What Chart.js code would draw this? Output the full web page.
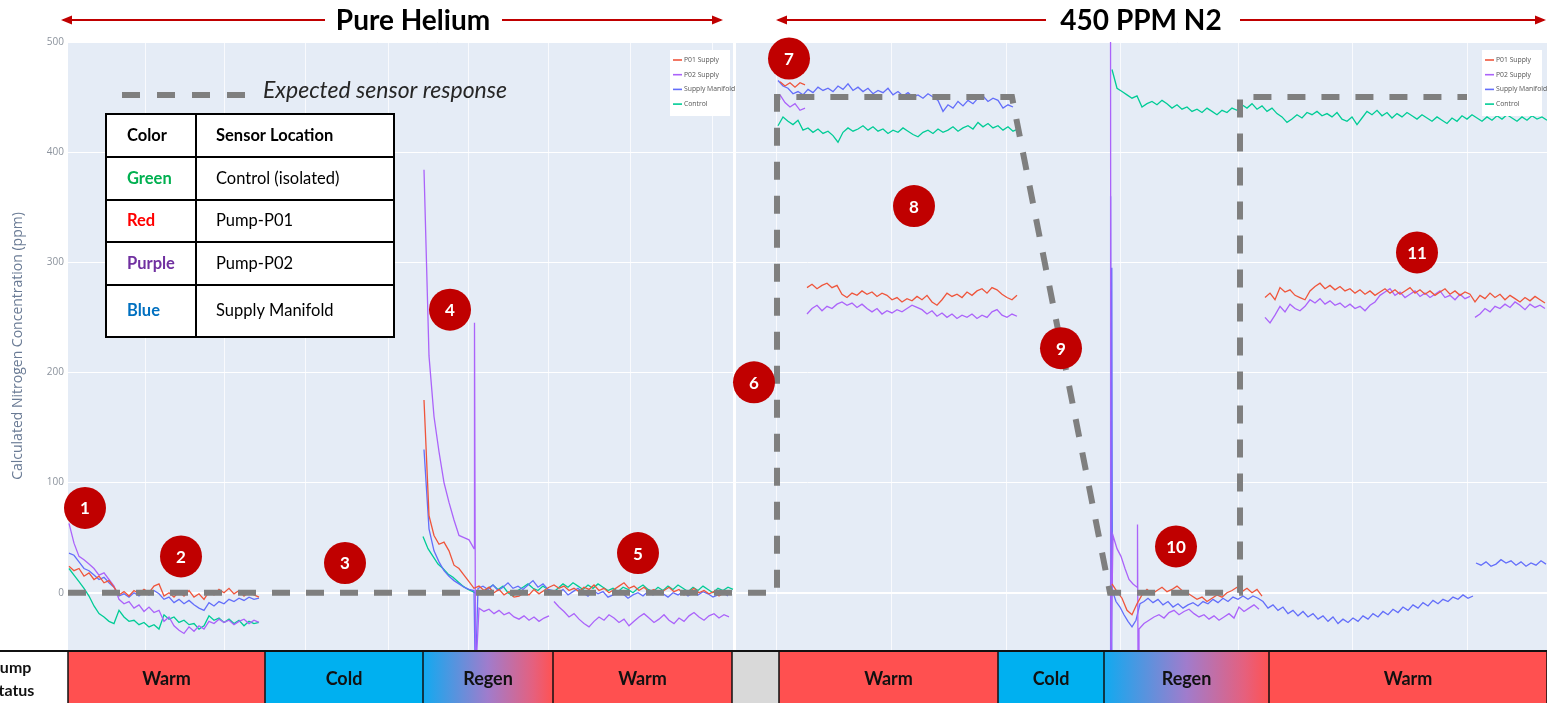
<!DOCTYPE html>
<html>
<head>
<meta charset="utf-8">
<script src="https://cdn.jsdelivr.net/npm/chart.js@4.4.1/dist/chart.umd.min.js"></script>
<style>
  html, body { margin: 0; padding: 0; background: #fff; overflow: hidden; }
</style>
</head>
<body>
<canvas id="chart" width="1547" height="703"></canvas>
<script>
// time axis is in hours from the start of the log
const X_MAX = 147.9;
const yTickValues = [0, 100, 200, 300, 400, 500];
const xGridHours = [7.7, 15.7, 23.7, 32.0, 40.0, 48.0, 56.2, 64.4, 70.85, 82.3, 93.8, 105.3, 117.0, 128.4, 139.9];
const panelGapHours = [66.5, 66.8];

const seriesNames = ['P01 Supply', 'P02 Supply', 'Supply Manifold', 'Control'];

// P01 Supply (red)
const p01Warm1 = [24,20,22,15,18,12,15,9,11,5,-2,1,-3,2,-1,3,0,6,8,-3,0,-4,1,-3,2,-4,-1,-6,1,-2,3,0,4,-1,2,-3,1,-2,-4];
const p01Regen1 = [175,70,52,44,46,38,25,22,16,10,4,6,2,5,0,3,-2,1,-4,-3,0,-2,3,-1,2,5,7,4,6,2,4,1,5,3,7,2,4,0,3,6,9,4,6,2,5,1,3,-1,2,5,1,3,-2,1,4,0,2,-1,1,-3,0,2];
const p01N2Start = [464,460,463,459,463,461];
const p01N2Warm = [277,280,276,279,281,277,279,271,268,272,270,274,271,273,269,272,270,266,268,264,267,265,269,266,270,264,261,266,272,269,271,268,273,270,274,276,272,277,275,271,268,266,270];
const p01Regen2 = [8,1,-5,-16,-20,-10,-2,3,-1,2,5,1,3,6,2,0,-3,-6,-4,-8,-5,-2,-4,0,2,5,1,4,0,3,-3];
const p01Warm3 = [268,272,266,277,273,275,270,268,266,274,278,281,276,279,275,278,274,276,272,275,271,274,270,273,276,272,275,271,274,277,272,275,271,274,270,273,276,271,274,270,273,271,264,270,267,272,268,271,266,270,267,264,268,265,269,266,263];

// P02 Supply (purple)
const p02Warm1 = [63,45,33,30,26,22,16,18,12,6,-6,-10,-8,-14,-11,-17,-13,-18,-16,-26,-22,-30,-34,-37,-31,-35,-30,-33,-26,-28,-24,-27,-25,-29,-26,-24,-28,-25,-27];
const p02Regen1 = [384,215,160,128,100,82,66,52,50,48,40];
const p02Spike1 = [245,-60,-60];
const p02Regen1b = [-14,-17,-15,-19,-16,-20,-18,-22,-24,-21,-25,-22,-26,-23,-21];
const p02Warm2 = [-8,-13,-17,-22,-19,-24,-28,-31,-26,-22,-25,-20,-23,-27,-24,-30,-26,-22,-19,-23,-27,-24,-20,-25,-28,-23,-26,-21,-18,-22,-25,-21,-19,-23,-20,-22];
const p02N2Start = [452,445,441,444,438,440];
const p02N2Warm = [253,258,261,256,260,258,262,264,261,263,259,262,258,255,258,253,256,254,257,255,258,261,259,257,253,256,251,254,250,253,249,252,250,253,249,252,250,255,257,252,250,253,251];
const p02Spike2 = [560,-60];
const p02Regen2 = [52,40,33,22,12,8,5];
const p02Spike3 = [62,-60];
const p02Regen2b = [-33,-28,-25,-22,-20,-23,-18,-16,-20,-17,-15,-19,-22,-20,-24,-21,-25,-22,-19,-23,-13,-17,-14,-11,-15];
const p02Warm3 = [250,245,252,260,255,262,258,256,260,266,263,267,262,265,261,263,259,262,258,260,256,261,264,270,273,276,270,273,268,271,274,269,272,268,271,274,268,270,266,271,267,269];
const p02Warm3b = [250,253,258,255,260,258,262,259,264,261,257,262,259,261,258];

// Supply Manifold (blue)
const manWarm1 = [36,34,28,22,20,16,12,14,9,5,-3,-1,-4,0,-3,1,-2,2,-1,-6,-4,-9,-6,-10,-7,-11,-14,-16,-9,-12,-8,-10,-6,-8,-5,-7,-4,-6,-5];
const manRegen1 = [130,58,38,28,20,15,11,8,5,3,2];
const manSpike1 = [-60,-60];
const manRegen1b = [4,6,3,7,2,5,9,4,6,3,7,11,5,8,3,2,-1,3,-2,1,4,0,-3,2,-1,1,-4,-2,1,-1,-5,-2,0,-3,1,-2,2,-1,-4,0,-2,1,-3,0,-2,1,-1,-4,-2,0,-3];
const manN2Warm = [465,460,458,453,455,452,457,454,459,456,458,455,460,457,462,456,459,455,458,453,456,454,458,452,455,451,454,450,452,449,453,450,447,437,443,440,446,442,447,444,449,451,446,449,447,440,443,441];
const manSpike2 = [-60,360,-60,295,2];
const manRegen2 = [-8,-13,-20,-26,-31,-25,-10,-8];
const manRegen2b = [-5,-9,-6,-11,-8,-13,-10,-14,-11,-9,-12,-8,-10,-6,-9,-5,-8,-4,-6,-3,-6,-3,-5,-8,-14,-11,-16,-13,-19,-16,-21,-17,-22,-19,-24,-21,-26,-22,-28,-24,-27,-23,-26,-21,-24,-19,-22,-17,-20,-15,-18,-13,-16,-11,-14,-9,-12,-7,-10,-6,-8,-4,-6,-2,-5,-3];
const manWarm3 = [27,25,28,24,26,30,27,29,25,28,24,27,25,29,26];

// Control (green)
const ctlWarm1 = [22,16,10,4,-3,-12,-19,-22,-26,-28,-16,-22,-26,-25,-29,-27,-31,-29,-33,-20,-24,-22,-27,-25,-29,-28,-33,-30,-21,-25,-23,-27,-24,-28,-25,-30,-26,-28,-27];
const ctlRegen1 = [51,40,33,26,22,17,14,10,6,3,1,-2,1,4,7,3,6,0,-3,2,5,8,4,2,6,3,0,4,8,5,9,6,3,7,4,8,5,2,4,1,5,3,0,4,7,3,1,5,2,6,3,7,4,1,5,2,6,3,0,4,2,5,3];
const ctlN2Warm = [424,432,428,425,429,420,422,418,421,417,419,415,409,418,422,419,421,424,420,423,419,421,417,420,418,422,419,416,414,418,420,417,421,418,420,423,419,422,424,421,427,423,426,422,424,420,423,419,421];
const ctlN2Rest = [475,458,455,452,449,451,441,444,446,443,447,444,440,443,439,441,437,439,436,440,437,434,438,436,440,438,443,440,444,439,442,437,440,435,432,427,430,434,431,436,434,437,433,435,432,436,430,428,432,425,431,437,434,438,433,436,431,435,432,436,433,430,434,431,428,432,429,426,431,428,433,430,434,431,428,432,429,433,430,434,431,428,432,429,433,430,432,429];

// expected sensor response (dashed)
const expectedHours = [0, 70.9, 70.9, 94.4, 104.2, 117.2, 117.2, 139.9];
const expectedPpm = [0, 0, 450, 450, 0, 0, 450, 450];

// pump status bar
const statusEdges = [0, 19.7, 35.5, 48.5, 66.4, 71.1, 93.0, 103.6, 120.1, 147.9];
const statusLabels = ['Warm', 'Cold', 'Regen', 'Warm', '', 'Warm', 'Cold', 'Regen', 'Warm'];

// numbered callouts
const markerLabels = ['1','2','3','4','5','6','7','8','9','10','11'];
const markerHours = [1.7, 11.3, 27.7, 38.2, 57.0, 68.6, 72.1, 84.6, 99.3, 110.8, 134.9];
const markerPpm = [77, 33, 27, 257, 36, 191, 485, 351, 222, 42, 309];

// sensor table
const tableColorNames = ['Green', 'Red', 'Purple', 'Blue'];
const tableLocations = ['Control (isolated)', 'Pump-P01', 'Pump-P02', 'Supply Manifold'];

const GAP = 'gap';
// each run: [start hour, sample step (h), values]
function series(runs) {
  const pts = [];
  runs.forEach(r => {
    if (r === GAP) { pts.push({ x: pts[pts.length - 1].x + 0.05, y: null }); return; }
    r[2].forEach((v, i) => pts.push({ x: r[0] + i * r[1], y: v }));
  });
  return pts;
}

const p01Data = series([
  [0.1, 0.5, p01Warm1], GAP, [35.6, 0.5, p01Regen1], GAP, [71.2, 0.5, p01N2Start], GAP,
  [73.9, 0.5, p01N2Warm], GAP, [104.4, 0.5, p01Regen2], GAP, [119.7, 0.5, p01Warm3]
]);
const p02Data = series([
  [0.1, 0.5, p02Warm1], GAP, [35.6, 0.5, p02Regen1], [40.65, 0.1, p02Spike1], [41.1, 0.5, p02Regen1b], GAP,
  [48.6, 0.5, p02Warm2], GAP, [71.2, 0.5, p02N2Start], GAP, [73.9, 0.5, p02N2Warm], GAP,
  [104.25, 0.05, p02Spike2], [104.5, 0.4, p02Regen2], [106.95, 0.05, p02Spike3], [107.1, 0.5, p02Regen2b], GAP,
  [119.7, 0.5, p02Warm3], GAP, [140.7, 0.5, p02Warm3b]
]);
const manData = series([
  [0.1, 0.5, manWarm1], GAP, [35.6, 0.5, manRegen1], [40.7, 0.1, manSpike1], [41.0, 0.5, manRegen1b], GAP,
  [71.0, 0.5, manN2Warm], GAP, [104.2, 0.06, manSpike2], [104.8, 0.4, manRegen2], [108.0, 0.5, manRegen2b], GAP,
  [140.8, 0.5, manWarm3]
]);
const ctlData = series([
  [0.1, 0.5, ctlWarm1], GAP, [35.5, 0.5, ctlRegen1], GAP, [71.0, 0.5, ctlN2Warm], GAP, [104.4, 0.5, ctlN2Rest]
]);

const traceColors = ['#EF553B', '#AB63FA', '#636EFA', '#00CC96'];

function trace(i, data) {
  return { label: seriesNames[i], data, borderColor: traceColors[i], borderWidth: 1.3,
           pointRadius: 0, tension: 0, fill: false, spanGaps: false, order: 1 };
}

function arrow(ctx, x1, x2, y, headLeft, headRight) {
  ctx.strokeStyle = '#c00000';
  ctx.fillStyle = '#c00000';
  ctx.lineWidth = 2;
  ctx.beginPath(); ctx.moveTo(x1, y); ctx.lineTo(x2, y); ctx.stroke();
  if (headLeft) {
    ctx.beginPath(); ctx.moveTo(x1 - 2, y); ctx.lineTo(x1 + 9, y - 4.5); ctx.lineTo(x1 + 9, y + 4.5); ctx.fill();
  }
  if (headRight) {
    ctx.beginPath(); ctx.moveTo(x2 + 2, y); ctx.lineTo(x2 - 9, y - 4.5); ctx.lineTo(x2 - 9, y + 4.5); ctx.fill();
  }
}

function plotlyLegend(ctx, x, y) {
  ctx.fillStyle = '#ffffff';
  ctx.fillRect(x, y, 60, 66);
  ctx.font = '6.8px "Open Sans"';
  ctx.textAlign = 'left';
  ctx.textBaseline = 'middle';
  seriesNames.forEach((name, i) => {
    const yy = y + 10 + i * 14.7;
    ctx.strokeStyle = traceColors[i];
    ctx.lineWidth = 1.6;
    ctx.beginPath(); ctx.moveTo(x + 3, yy); ctx.lineTo(x + 12, yy); ctx.stroke();
    ctx.fillStyle = '#555';
    ctx.fillText(name, x + 14, yy);
  });
}

const overlay = {
  id: 'overlay',
  beforeDraw(chart) {
    const { ctx, chartArea: a, scales: { x } } = chart;
    ctx.save();
    ctx.fillStyle = '#E5ECF6';
    ctx.fillRect(a.left, a.top, a.right - a.left, a.bottom - a.top);
    ctx.fillStyle = '#ffffff';
    const g0 = x.getPixelForValue(panelGapHours[0]), g1 = x.getPixelForValue(panelGapHours[1]);
    ctx.fillRect(g0, a.top, g1 - g0, a.bottom - a.top);
    ctx.restore();
  },
  afterDraw(chart) {
    const { ctx, chartArea: a, scales: { x, y } } = chart;
    const H = chart.height;
    ctx.save();

    plotlyLegend(ctx, 670, 50);
    plotlyLegend(ctx, 1482, 50);

    // expected-response legend
    ctx.strokeStyle = '#7f7f7f';
    ctx.lineWidth = 6;
    ctx.setLineDash([18, 17]);
    ctx.beginPath(); ctx.moveTo(122, 95); ctx.lineTo(245, 95); ctx.stroke();
    ctx.setLineDash([]);
    ctx.fillStyle = '#262626';
    ctx.font = 'italic 23px Lato';
    ctx.textAlign = 'left';
    ctx.textBaseline = 'middle';
    ctx.fillText('Expected sensor response', 263, 91);

    // sensor table
    const tx0 = 106, tx1 = 394, tcol = 196;
    const rows = [114, 157, 200, 242, 285, 337];
    ctx.fillStyle = '#ffffff';
    ctx.fillRect(tx0, rows[0], tx1 - tx0, rows[5] - rows[0]);
    ctx.strokeStyle = '#000';
    ctx.lineWidth = 2;
    ctx.strokeRect(tx0, rows[0], tx1 - tx0, rows[5] - rows[0]);
    ctx.beginPath();
    ctx.moveTo(tcol, rows[0]); ctx.lineTo(tcol, rows[5]);
    for (let i = 1; i < 5; i++) { ctx.moveTo(tx0, rows[i]); ctx.lineTo(tx1, rows[i]); }
    ctx.stroke();
    const nameColors = ['#00b050', '#ff0000', '#7030a0', '#0070c0'];
    ctx.font = 'bold 16.5px Lato';
    ctx.fillStyle = '#000';
    ctx.fillText('Color', 127, (rows[0] + rows[1]) / 2);
    ctx.fillText('Sensor Location', 216, (rows[0] + rows[1]) / 2);
    tableColorNames.forEach((n, i) => {
      const cy = (rows[i + 1] + rows[i + 2]) / 2;
      ctx.font = 'bold 16.5px Lato';
      ctx.fillStyle = nameColors[i];
      ctx.fillText(n, 127, cy);
      ctx.font = '16.5px Lato';
      ctx.fillStyle = '#000';
      ctx.fillText(tableLocations[i], 216, cy);
    });

    // numbered callouts
    markerLabels.forEach((lab, i) => {
      const cx = x.getPixelForValue(markerHours[i]);
      const cy = y.getPixelForValue(markerPpm[i]);
      ctx.fillStyle = '#c00000';
      ctx.beginPath(); ctx.arc(cx, cy, 21, 0, Math.PI * 2); ctx.fill();
      ctx.fillStyle = '#ffffff';
      ctx.font = 'bold 17px Lato';
      ctx.textAlign = 'center';
      ctx.fillText(lab, cx, cy + 1);
    });

    // top banner
    ctx.fillStyle = '#000';
    ctx.font = 'bold 28px Lato';
    ctx.textAlign = 'center';
    ctx.fillText('Pure Helium', 413, 21);
    ctx.fillText('450 PPM N2', 1141, 21);
    arrow(ctx, 63, 325, 20, true, false);
    arrow(ctx, 502, 721, 20, false, true);
    arrow(ctx, 778, 1046, 20, true, false);
    arrow(ctx, 1240, 1544, 20, false, true);

    // pump status bar
    const by0 = a.bottom, by1 = H;
    ctx.fillStyle = '#ffffff';
    ctx.fillRect(0, by0, chart.width, by1 - by0);
    statusLabels.forEach((lab, i) => {
      const sx0 = x.getPixelForValue(statusEdges[i]);
      const sx1 = x.getPixelForValue(statusEdges[i + 1]);
      if (lab === 'Warm') ctx.fillStyle = '#ff5050';
      else if (lab === 'Cold') ctx.fillStyle = '#00b0f0';
      else if (lab === 'Regen') {
        const g = ctx.createLinearGradient(sx0, 0, sx1, 0);
        g.addColorStop(0, '#10aaf0');
        g.addColorStop(0.5, '#a07ccc');
        g.addColorStop(0.85, '#e5607e');
        g.addColorStop(1, '#ff5252');
        ctx.fillStyle = g;
      } else ctx.fillStyle = '#d9d9d9';
      ctx.fillRect(sx0, by0, sx1 - sx0, by1 - by0);
      if (lab) {
        ctx.fillStyle = '#111';
        ctx.font = 'bold 18px Lato';
        ctx.textAlign = 'center';
        ctx.fillText(lab, (sx0 + sx1) / 2, (by0 + by1) / 2 + 3);
      }
    });
    ctx.strokeStyle = '#111';
    ctx.lineWidth = 2;
    ctx.beginPath(); ctx.moveTo(0, by0 + 1); ctx.lineTo(chart.width, by0 + 1); ctx.stroke();
    ctx.lineWidth = 1.5;
    ctx.beginPath();
    statusEdges.forEach(e => {
      const sx = x.getPixelForValue(e);
      ctx.moveTo(sx, by0); ctx.lineTo(sx, by1);
    });
    ctx.stroke();
    ctx.fillStyle = '#111';
    ctx.font = 'bold 16px Lato';
    ctx.textAlign = 'left';
    ctx.fillText('Pump', -10, 668);
    ctx.fillText('Status', -10, 691);

    ctx.restore();
  }
};

new Chart(document.getElementById('chart'), {
  type: 'line',
  data: {
    datasets: [
      { label: 'Expected sensor response',
        data: expectedHours.map((h, i) => ({ x: h, y: expectedPpm[i] })),
        borderColor: '#7f7f7f', borderWidth: 6, borderDash: [18, 16], borderCapStyle: 'butt',
        borderJoinStyle: 'miter', pointRadius: 0, tension: 0, fill: false, order: 0 },
      trace(0, p01Data),
      trace(1, p02Data),
      trace(2, manData),
      trace(3, ctlData)
    ]
  },
  options: {
    responsive: false,
    animation: false,
    devicePixelRatio: 1,
    layout: { padding: { top: 42, bottom: 53, left: 0, right: 0 } },
    plugins: { legend: { display: false }, tooltip: { enabled: false } },
    scales: {
      x: {
        type: 'linear', min: 0, max: X_MAX,
        afterBuildTicks: s => { s.ticks = xGridHours.map(v => ({ value: v })); },
        afterFit: s => { s.height = 0; },
        ticks: { display: false },
        grid: { color: 'rgba(255,255,255,0.75)', lineWidth: 1, drawTicks: false },
        border: { display: false }
      },
      y: {
        min: -52, max: 500,
        afterBuildTicks: s => { s.ticks = yTickValues.map(v => ({ value: v })); },
        afterFit: s => { s.width = 68; },
        ticks: { font: { family: 'Open Sans', size: 10 }, color: '#8c939d', padding: 4 },
        grid: { color: '#ffffff', lineWidth: c => (c.tick && c.tick.value === 0 ? 2 : 1), drawTicks: false },
        border: { display: false },
        title: { display: true, text: 'Calculated Nitrogen Concentration (ppm)',
                 font: { family: 'Open Sans', size: 14 }, color: '#6a7b95', padding: { top: 10, bottom: 0 } }
      }
    }
  },
  plugins: [overlay]
});
</script>
</body>
</html>
